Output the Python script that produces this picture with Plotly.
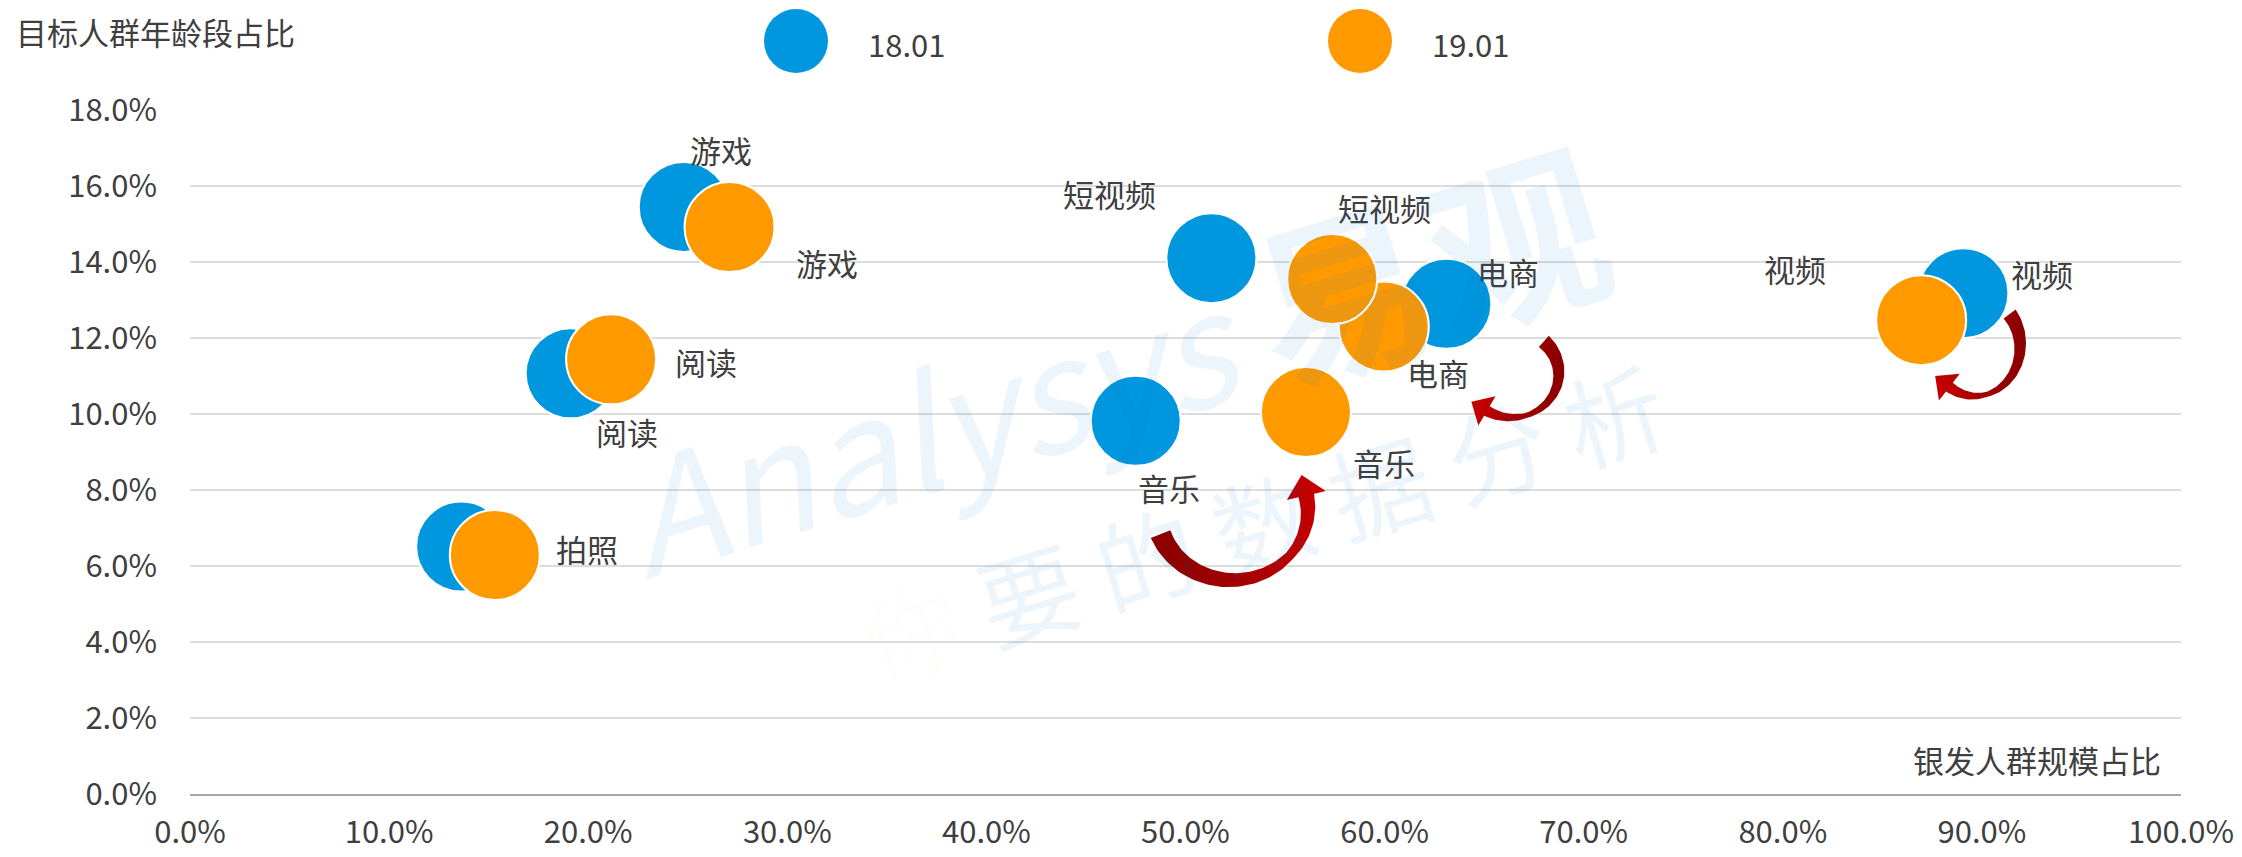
import numpy as np
import plotly.graph_objects as go

# ---- data (percent values) ----
categories = ["拍照", "阅读", "游戏", "音乐", "电商", "短视频", "视频"]
scale_1801 = [13.62, 19.12, 24.8, 47.5, 63.1, 51.3, 89.07]   # 银发人群规模占比
age_1801 = [6.51, 11.07, 15.45, 9.82, 12.9, 14.1, 13.18]      # 目标人群年龄段占比
scale_1901 = [15.31, 21.15, 27.1, 56.05, 59.96, 57.37, 86.95]
age_1901 = [6.29, 11.44, 14.92, 10.05, 12.3, 13.55, 12.47]
series_names = ["18.01", "19.01"]
x_ticks = list(range(0, 101, 10))
y_ticks = list(range(0, 19, 2))

# ---- page geometry (page pixels; the html body adds an 8px offset) ----
W, H = 2242, 857
BODY = 8
PLOT_L, PLOT_R, PLOT_T, PLOT_B = 190, 2181, 110, 794
X_MAX, Y_MAX = 100, 18
PX_X = (PLOT_R - PLOT_L) / X_MAX
PX_Y = (PLOT_B - PLOT_T) / Y_MAX

BLUE = "#0097DE"
ORANGE = "#FF9900"
TEXT = "#3F3F3F"
FONT = "Microsoft YaHei, Noto Sans CJK SC, sans-serif"


def to_px(x, y):
    return PLOT_L + x * PX_X, PLOT_B - y * PX_Y


def to_data(px, py):
    return (px - PLOT_L) / PX_X, (PLOT_B - py) / PX_Y


def paper_x(px):
    return (px - PLOT_L) / (PLOT_R - PLOT_L)


def paper_y(py):
    return (PLOT_B - py) / (PLOT_B - PLOT_T)


# label offsets in pixels (dx right, dy down) per category, per series
label_offsets_1801 = {"阅读": (56, 58), "游戏": (37, -57), "音乐": (33, 67),
                      "电商": (62, -32), "短视频": (-102, -65), "视频": (79, -20)}
label_offsets_1901 = {"拍照": (92, -6), "阅读": (95, 2), "游戏": (97, 35), "音乐": (78, 50),
                      "电商": (54, 46), "短视频": (52, -72), "视频": (-126, -52)}

fig = go.Figure()

for name, xs, ys, color in [
    (series_names[0], scale_1801, age_1801, BLUE),
    (series_names[1], scale_1901, age_1901, ORANGE),
]:
    fig.add_trace(
        go.Scatter(
            x=xs,
            y=ys,
            mode="markers",
            name=name,
            text=categories,
            showlegend=False,
            cliponaxis=False,
            marker=dict(size=90, color=color, line=dict(width=2, color="white")),
            hovertemplate="%{text}<br>%{x:.1f}%, %{y:.1f}%<extra>" + name + "</extra>",
        )
    )

# ---- curved arrows: elliptical arcs placed relative to the 19.01 point of the category ----
arrows = [
    # category, centre offset (px), rx, ry, start/end angle (deg), widths (tail, thin, end), head (base, length)
    ("音乐", (-74, 98), 76, 70, 160, -12, (21, 9, 16), (40, 21)),
    ("电商", (128, 47), 47, 44, -47, 122, (15, 5, 11), (34, 18)),
    ("视频", (54, 26), 45, 50, -40, 125, (15, 5, 11), (34, 18)),
]


def arrow_polygon(anchor, offset, rx, ry, a0, a1, widths, head):
    cx, cy = anchor[0] + offset[0], anchor[1] + offset[1]
    s = np.linspace(0, 1, 80)
    th = np.radians(a0 + (a1 - a0) * s)
    c = np.column_stack([cx + rx * np.cos(th), cy + ry * np.sin(th)])
    sign = np.sign(a1 - a0)
    d = sign * np.column_stack([-rx * np.sin(th), ry * np.cos(th)])
    d = d / np.linalg.norm(d, axis=1, keepdims=True)
    n = np.column_stack([-d[:, 1], d[:, 0]])
    w0, wm, w1 = widths
    w = np.where(s < 0.7, w0 + (wm - w0) * s / 0.7, wm + (w1 - wm) * (s - 0.7) / 0.3)
    left = c + n * (w[:, None] / 2)
    right = c - n * (w[:, None] / 2)
    hb, hl = head
    end, dir_end, n_end = c[-1], d[-1], n[-1]
    tip = end + dir_end * hl
    pts = np.vstack([left, [end + n_end * hb / 2], [tip], [end - n_end * hb / 2], right[::-1], left[:1]])
    return [to_data(px, py) for px, py in pts]


for cat, offset, rx, ry, a0, a1, widths, head in arrows:
    i = categories.index(cat)
    anchor = to_px(scale_1901[i], age_1901[i])
    poly = arrow_polygon(anchor, offset, rx, ry, a0, a1, widths, head)
    tail_left = poly[0][0] < poly[len(poly) // 2][0]
    cs = [[0, "#8A0000"], [0.45, "#A00000"], [1, "#C80000"]]
    if not tail_left:
        cs = [[0, "#C80000"], [0.55, "#A00000"], [1, "#8A0000"]]
    fig.add_trace(
        go.Scatter(
            x=[p[0] for p in poly],
            y=[p[1] for p in poly],
            mode="lines",
            fill="toself",
            line=dict(width=0),
            fillgradient=dict(type="horizontal", colorscale=cs),
            hoverinfo="skip",
            showlegend=False,
            cliponaxis=False,
        )
    )

# ---- data labels ----
annotations = []
for offsets, xs, ys in [
    (label_offsets_1801, scale_1801, age_1801),
    (label_offsets_1901, scale_1901, age_1901),
]:
    for cat, (dx, dy) in offsets.items():
        i = categories.index(cat)
        annotations.append(
            dict(
                x=xs[i], y=ys[i], xref="x", yref="y",
                text=cat, showarrow=False,
                xanchor="center", yanchor="middle",
                xshift=dx, yshift=-dy,
                font=dict(size=31, color=TEXT, family=FONT),
            )
        )

# watermark
annotations.append(dict(
    x=paper_x(1110), y=paper_y(355), xref="paper", yref="paper", showarrow=False, textangle=-17,
    xanchor="center", yanchor="middle",
    text="<i>Analysys</i> <b><span style='font-size:180px'>易观</span></b>",
    font=dict(size=155, color="rgba(0,120,210,0.07)", family=FONT),
))
annotations.append(dict(
    x=paper_x(1262), y=paper_y(520), xref="paper", yref="paper", showarrow=False, textangle=-17,
    xanchor="center", yanchor="middle",
    text="<span style='color:rgba(255,130,40,0.13)'>你</span> 要 的 数 据 分 析",
    font=dict(size=100, color="rgba(0,120,210,0.07)", family=FONT),
))

# axis titles
annotations.append(dict(
    x=paper_x(14), y=paper_y(31.5), xref="paper", yref="paper", xanchor="left", yanchor="middle",
    showarrow=False, text="目标人群年龄段占比",
    font=dict(size=31, color=TEXT, family=FONT),
))
annotations.append(dict(
    x=paper_x(2163), y=paper_y(759), xref="paper", yref="paper", xanchor="right", yanchor="middle",
    showarrow=False, text="银发人群规模占比",
    font=dict(size=31, color=TEXT, family=FONT),
))

# legend (drawn by hand so the circles keep their large size)
shapes = []
for name, color, cx, tx in [(series_names[0], BLUE, 796, 866),
                            (series_names[1], ORANGE, 1360, 1430)]:
    shapes.append(dict(
        type="circle", xref="paper", yref="paper", xsizemode="pixel", ysizemode="pixel",
        xanchor=paper_x(cx), yanchor=paper_y(41), x0=-32, x1=32, y0=-32, y1=32,
        fillcolor=color, line=dict(width=0),
    ))
    annotations.append(dict(
        x=paper_x(tx), y=paper_y(43), xref="paper", yref="paper", xanchor="left", yanchor="middle",
        showarrow=False, text=name, font=dict(size=31, color=TEXT, family=FONT),
    ))

fig.update_layout(
    width=W,
    height=H,
    margin=dict(l=PLOT_L - BODY, r=W - PLOT_R + BODY, t=PLOT_T - BODY, b=H - PLOT_B + BODY),
    paper_bgcolor="white",
    plot_bgcolor="white",
    font=dict(family=FONT, color=TEXT, size=30),
    showlegend=False,
    annotations=annotations,
    shapes=shapes,
)
fig.update_xaxes(
    range=[0, X_MAX],
    tickvals=x_ticks,
    ticktext=[f"{v:.1f}%" for v in x_ticks],
    showgrid=False,
    zeroline=False,
    showline=True,
    linecolor="#A6A6A6",
    linewidth=2,
    ticks="",
    automargin=False,
    ticklabelstandoff=10,
    tickfont=dict(size=31, color=TEXT),
)
fig.update_yaxes(
    range=[0, Y_MAX],
    tickvals=y_ticks,
    ticktext=[f"{v:.1f}%" for v in y_ticks],
    showgrid=True,
    gridcolor="#DCDCDC",
    gridwidth=2,
    zeroline=False,
    showline=False,
    ticks="",
    automargin=False,
    ticklabelstandoff=32,
    tickfont=dict(size=31, color=TEXT),
)

fig.write_html("out.html")
